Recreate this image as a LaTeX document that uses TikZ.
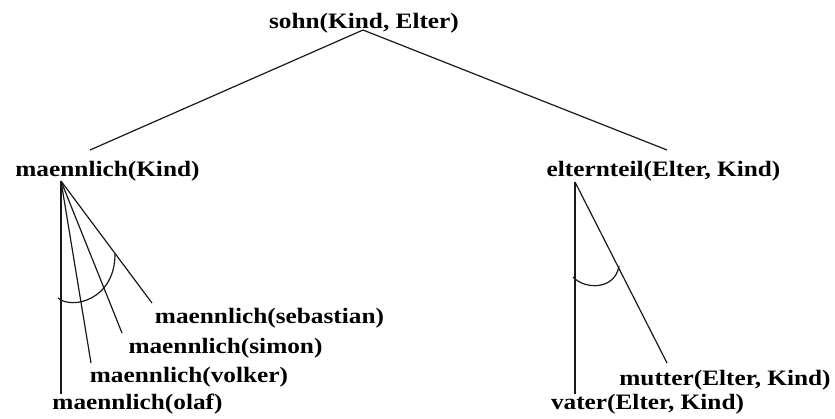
\documentclass[tikz,border=0pt]{standalone}
\usepackage{fontspec}
\newfontfamily\lbl[FakeStretch=1.15]{Liberation Serif}
\begin{document}
\begin{tikzpicture}[x=0.75pt,y=-0.75pt,
  term/.style={inner sep=0pt,anchor=base,font=\lbl\bfseries\fontsize{16.5pt}{18pt}\selectfont},
  edge/.style={line width=0.9pt,black!90}]
\useasboundingbox (0,0) rectangle (835,418);

% goal and subgoals
\node[term] (sohn) at (364,28) {sohn(Kind, Elter)};
\node[term] (mk)   at (107.5,176) {maennlich(Kind)};
\node[term] (et)   at (663.5,176) {elternteil(Elter, Kind)};

% facts for maennlich
\node[term] (olaf)  at (137.5,409) {maennlich(olaf)};
\node[term] (volk)  at (189,382)   {maennlich(volker)};
\node[term] (simon) at (225.5,353) {maennlich(simon)};
\node[term] (seb)   at (269.5,323) {maennlich(sebastian)};

% rules for elternteil
\node[term] (vater)  at (647.5,409) {vater(Elter, Kind)};
\node[term] (mutter) at (725,385)   {mutter(Elter, Kind)};

% attachment points of the connectors
\coordinate (sohnB) at (363,30);
\coordinate (mkT)   at (90,150);
\coordinate (etT)   at (667,150);
\coordinate (mkB)   at (61,181);
\coordinate (etB)   at (575,182);
\coordinate (olafT) at (61,394);
\coordinate (volkT) at (91,363);
\coordinate (simT)  at (122,333);
\coordinate (sebT)  at (152,303);
\coordinate (vatT)  at (575,394);
\coordinate (mutT)  at (667,363);

% AND branch of the top goal
\draw[edge] (mkT) -- (sohnB) -- (etT);

% OR branches
\draw[edge] (mkB) -- (olafT);
\draw[edge] (mkB) -- (volkT);
\draw[edge] (mkB) -- (simT);
\draw[edge] (mkB) -- (sebT);
\draw[edge] (etB) -- (vatT);
\draw[edge] (etB) -- (mutT);

% arcs tying the alternatives together
\coordinate (arcLa) at (58,298);
\coordinate (arcLb) at (115,254);
\coordinate (arcRa) at (573,277);
\coordinate (arcRb) at (619,266);
\draw[edge] (arcLa) .. controls (72,310) and (115,300) .. (arcLb);
\draw[edge] (arcRa) .. controls (585,290) and (615,290) .. (arcRb);
\end{tikzpicture}
\end{document}
